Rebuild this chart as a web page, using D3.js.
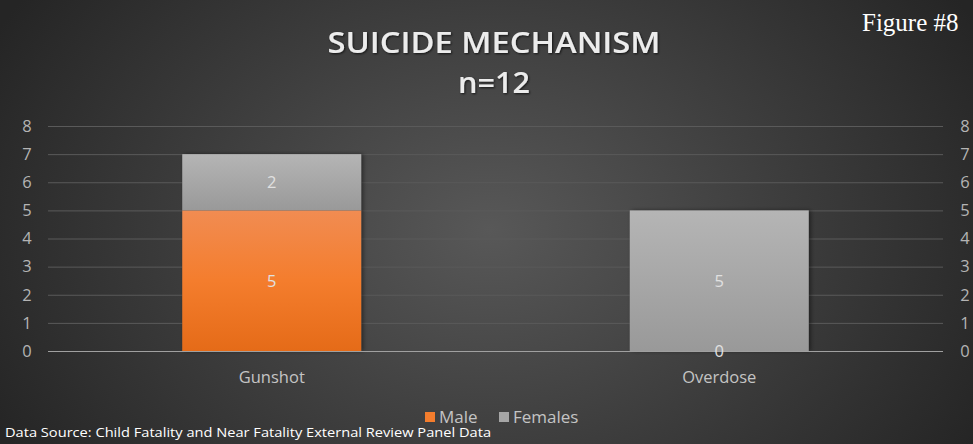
<!DOCTYPE html>
<html>
<head>
<meta charset="utf-8">
<script src="https://cdn.jsdelivr.net/npm/d3@7/dist/d3.min.js"></script>
<style>
  body { margin: 0; background: #262626; }
  svg { display: block; }
</style>
</head>
<body>
<svg id="chart" width="973" height="444"></svg>
<script>
// chart data
var categories = ["Gunshot", "Overdose"];
var seriesNames = ["Male", "Females"];
var maleValues = [5, 0];
var femaleValues = [2, 5];
var yTicks = [0, 1, 2, 3, 4, 5, 6, 7, 8];

var width = 973,
  height = 444;
var plot = { left: 48, right: 943, top: 126, bottom: 351 };

var svg = d3.select("#chart");
var defs = svg.append("defs");

// background radial gradient
var bg = defs.append("radialGradient")
  .attr("id", "bg")
  .attr("gradientUnits", "userSpaceOnUse")
  .attr("cx", 490).attr("cy", 230).attr("r", 560)
  .attr("gradientTransform", "translate(490,230) scale(1,0.75) translate(-490,-230)");
bg.append("stop").attr("offset", "0%").attr("stop-color", "#585858");
bg.append("stop").attr("offset", "100%").attr("stop-color", "#252525");

var orange = defs.append("linearGradient")
  .attr("id", "orange").attr("x1", 0).attr("y1", 0).attr("x2", 0).attr("y2", 1);
orange.append("stop").attr("offset", "0%").attr("stop-color", "#f18c52");
orange.append("stop").attr("offset", "50%").attr("stop-color", "#f47d2d");
orange.append("stop").attr("offset", "100%").attr("stop-color", "#e56b18");

var grey = defs.append("linearGradient")
  .attr("id", "grey").attr("x1", 0).attr("y1", 0).attr("x2", 0).attr("y2", 1);
grey.append("stop").attr("offset", "0%").attr("stop-color", "#b5b5b5");
grey.append("stop").attr("offset", "100%").attr("stop-color", "#999999");

var shadow = defs.append("filter").attr("id", "shadow")
  .attr("x", "-10%").attr("y", "-10%").attr("width", "120%").attr("height", "120%");
shadow.append("feDropShadow").attr("dx", 2).attr("dy", 0).attr("stdDeviation", 2)
  .attr("flood-color", "#000").attr("flood-opacity", 0.45);

var txtShadow = defs.append("filter").attr("id", "txtShadow");
txtShadow.append("feDropShadow").attr("dx", 1).attr("dy", 1).attr("stdDeviation", 1)
  .attr("flood-color", "#000").attr("flood-opacity", 0.7);

svg.append("rect")
  .attr("width", width).attr("height", height)
  .attr("fill", "url(#bg)");

// scales
var x = d3.scaleBand()
  .domain(categories)
  .range([plot.left, plot.right]);

var barWidth = x.bandwidth() * 0.4;

var y = d3.scaleLinear()
  .domain([0, 8])
  .range([plot.bottom, plot.top]);

// gridlines
svg.append("g")
  .selectAll("line")
  .data(yTicks.filter(function(d) { return d > 0; }))
  .enter()
  .append("line")
  .attr("x1", plot.left).attr("x2", plot.right)
  .attr("y1", function(d) { return y(d) + 0.5; })
  .attr("y2", function(d) { return y(d) + 0.5; })
  .attr("stroke", "#5a5a5a")
  .attr("stroke-width", 1);

// axes labels left and right
var axisFont = "'Open Sans', sans-serif";
var leftAxis = svg.append("g")
  .attr("transform", "translate(27,0)")
  .call(d3.axisLeft(y).tickValues(yTicks).tickSize(0).tickPadding(0));
var rightAxis = svg.append("g")
  .attr("transform", "translate(965,0)")
  .call(d3.axisRight(y).tickValues(yTicks).tickSize(0).tickPadding(0));
[leftAxis, rightAxis].forEach(function(a) {
  a.select(".domain").remove();
  a.selectAll("text")
    .attr("text-anchor", "middle")
    .attr("x", 0)
    .attr("fill", "#b4b4b4")
    .style("font-family", axisFont)
    .style("font-size", "16.5px");
});

// stacked bars
var stackData = categories.map(function(c, i) {
  return { category: c, Male: maleValues[i], Females: femaleValues[i] };
});
var stack = d3.stack().keys(seriesNames)(stackData);
var fills = { Male: "url(#orange)", Females: "url(#grey)" };

// shadow behind full bar
svg.append("g")
  .selectAll("rect")
  .data(stackData)
  .enter()
  .append("rect")
  .attr("x", function(d) { return x(d.category) + (x.bandwidth() - barWidth) / 2; })
  .attr("width", barWidth)
  .attr("y", function(d) { return y(d.Male + d.Females); })
  .attr("height", function(d) { return y(0) - y(d.Male + d.Females); })
  .attr("fill", "#444")
  .attr("filter", "url(#shadow)");

stack.forEach(function(layer) {
  svg.append("g")
    .selectAll("rect")
    .data(layer)
    .enter()
    .append("rect")
    .attr("x", function(d) { return x(d.data.category) + (x.bandwidth() - barWidth) / 2; })
    .attr("width", barWidth)
    .attr("y", function(d) { return y(d[1]); })
    .attr("height", function(d) { return y(d[0]) - y(d[1]); })
    .attr("fill", fills[layer.key]);
});

// baseline
svg.append("line")
  .attr("x1", plot.left).attr("x2", plot.right)
  .attr("y1", y(0) + 0.5).attr("y2", y(0) + 0.5)
  .attr("stroke", "#a0a0a0")
  .attr("stroke-width", 1.2);

// data labels
stack.forEach(function(layer) {
  svg.append("g")
    .selectAll("text")
    .data(layer)
    .enter()
    .append("text")
    .attr("x", function(d) { return x(d.data.category) + x.bandwidth() / 2; })
    .attr("y", function(d) { return (y(d[0]) + y(d[1])) / 2 + 6; })
    .attr("text-anchor", "middle")
    .attr("fill", "#e0e0e0")
    .style("font-family", axisFont)
    .style("font-size", "16.5px")
    .text(function(d) { return d[1] - d[0]; });
});

// category labels
svg.append("g")
  .selectAll("text")
  .data(categories)
  .enter()
  .append("text")
  .attr("x", function(d) { return x(d) + x.bandwidth() / 2; })
  .attr("y", 383)
  .attr("text-anchor", "middle")
  .attr("fill", "#c4c4c4")
  .style("font-family", axisFont)
  .style("font-size", "16.5px")
  .text(function(d) { return d; });

// title
svg.append("text")
  .attr("x", 494).attr("y", 53)
  .attr("text-anchor", "middle")
  .attr("fill", "#ececec")
  .attr("filter", "url(#txtShadow)")
  .attr("textLength", 333).attr("lengthAdjust", "spacingAndGlyphs")
  .style("font-family", "'Open Sans', sans-serif")
  .style("font-weight", "600")
  .style("font-size", "28px")
  .text("SUICIDE MECHANISM");

svg.append("text")
  .attr("x", 494).attr("y", 93)
  .attr("text-anchor", "middle")
  .attr("fill", "#ececec")
  .attr("filter", "url(#txtShadow)")
  .attr("textLength", 72).attr("lengthAdjust", "spacingAndGlyphs")
  .style("font-family", "'Open Sans', sans-serif")
  .style("font-weight", "600")
  .style("font-size", "28px")
  .text("n=12");

svg.append("text")
  .attr("x", 862).attr("y", 31)
  .attr("fill", "#ffffff")
  .style("font-family", "'Liberation Serif', 'Times New Roman', serif")
  .style("font-size", "25px")
  .text("Figure #8");

// legend
var legendColors = ["#f47d2d", "#a6a6a6"];
var legendX = [425, 499];
var legend = svg.append("g")
  .selectAll("g")
  .data(seriesNames)
  .enter()
  .append("g")
  .attr("transform", function(d, i) { return "translate(" + legendX[i] + ",412)"; });
legend.append("rect")
  .attr("width", 10).attr("height", 10)
  .attr("fill", function(d, i) { return legendColors[i]; });
legend.append("text")
  .attr("x", 14).attr("y", 11)
  .attr("fill", "#c4c4c4")
  .style("font-family", axisFont)
  .style("font-size", "17px")
  .text(function(d) { return d; });

// source note
svg.append("text")
  .attr("x", 5).attr("y", 437)
  .attr("fill", "#ffffff")
  .attr("textLength", 486).attr("lengthAdjust", "spacingAndGlyphs")
  .style("font-family", axisFont)
  .style("font-size", "13.5px")
  .text("Data Source: Child Fatality and Near Fatality External Review Panel Data");
</script>
</body>
</html>
